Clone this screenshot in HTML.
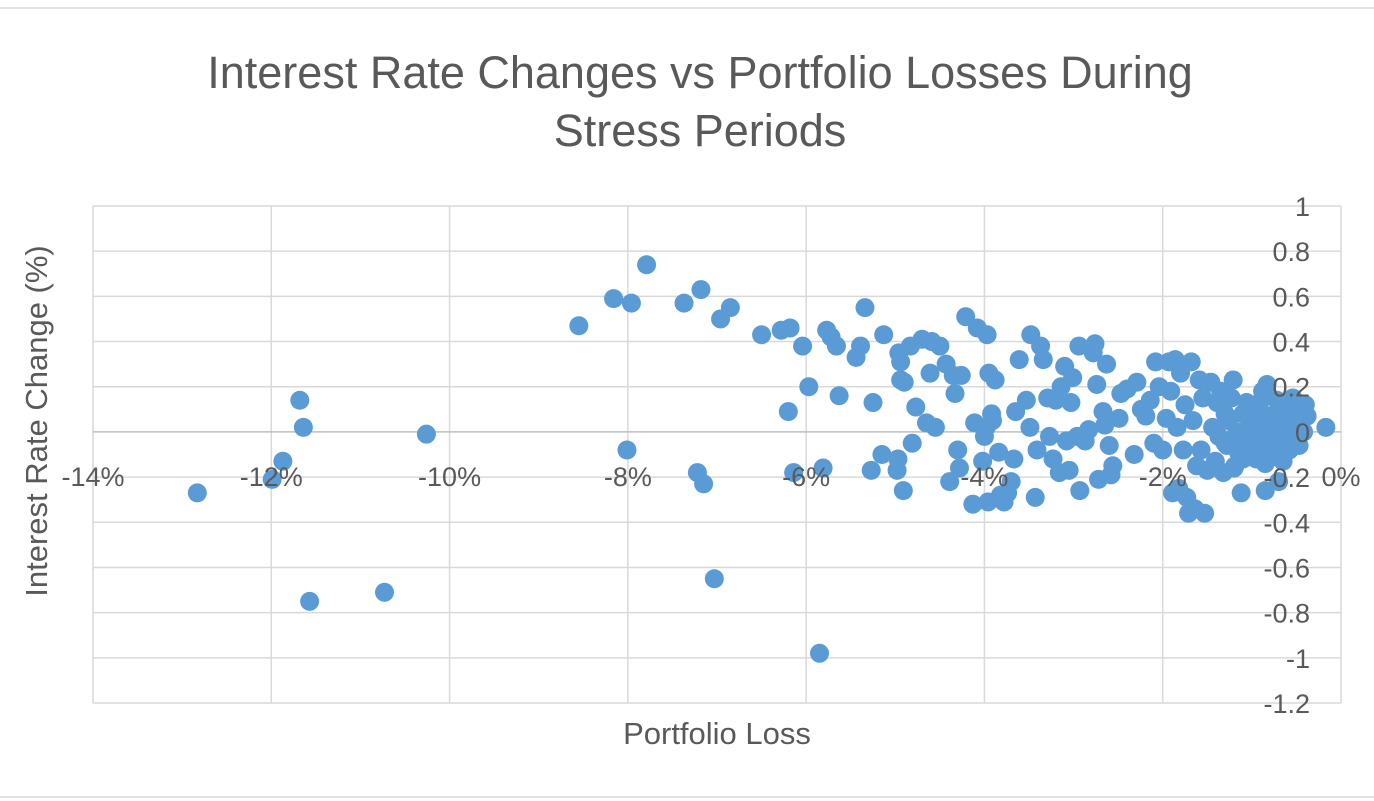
<!DOCTYPE html>
<html><head><meta charset="utf-8"><style>
html,body{margin:0;padding:0;background:#fff;}
svg{display:block;font-family:"Liberation Sans",sans-serif;}
</style></head><body>
<svg id="chart" width="1374" height="801" viewBox="0 0 1374 801">
<line x1="0" y1="8" x2="1374" y2="8" stroke="#d9d9d9" stroke-width="1.5"/>
<line x1="0" y1="797" x2="1374" y2="797" stroke="#d9d9d9" stroke-width="1.5"/>
<text x="700" y="88" text-anchor="middle" font-size="45" fill="#595959">Interest Rate Changes vs Portfolio Losses During</text>
<text x="700" y="146" text-anchor="middle" font-size="45" fill="#595959">Stress Periods</text>
<g id="grid"></g>
<g id="pts"></g>
<g id="ticks"></g>
<text x="717" y="744" text-anchor="middle" font-size="31" fill="#595959">Portfolio Loss</text>
<text transform="translate(47,421) rotate(-90)" text-anchor="middle" font-size="31" fill="#595959">Interest Rate Change (%)</text>
</svg>
<script>
const xTicks=[-14,-12,-10,-8,-6,-4,-2,0];
const xTickLabels=["-14%","-12%","-10%","-8%","-6%","-4%","-2%","0%"];
const yTicks=[1,0.8,0.6,0.4,0.2,0,-0.2,-0.4,-0.6,-0.8,-1,-1.2];
const yTickLabels=["1","0.8","0.6","0.4","0.2","0","-0.2","-0.4","-0.6","-0.8","-1","-1.2"];
const lossX=[-12.83,-11.99,-11.87,-11.68,-11.64,-11.57,-10.73,-10.26,-8.55,-8.16,-8.01,-7.96,-7.79,-7.37,-7.22,-7.18,-7.15,-7.03,-6.96,-6.85,-6.50,-6.28,-6.20,-6.18,-6.14,-6.04,-5.97,-5.85,-5.81,-5.77,-5.72,-5.66,-5.63,-5.44,-5.39,-5.34,-5.27,-5.25,-5.15,-5.13,-4.98,-4.97,-4.96,-4.94,-4.94,-4.90,-4.91,-4.83,-4.81,-4.77,-4.70,-4.65,-4.61,-4.59,-4.55,-4.50,-4.43,-4.39,-4.35,-4.33,-4.30,-4.28,-4.26,-4.21,-4.13,-4.11,-4.08,-4.02,-4.00,-3.98,-3.97,-3.96,-3.95,-3.92,-3.91,-3.88,-3.84,-3.82,-3.78,-3.74,-3.70,-3.67,-3.65,-3.61,-3.53,-3.49,-3.48,-3.43,-3.41,-3.37,-3.34,-3.29,-3.27,-3.23,-3.20,-3.16,-3.14,-3.10,-3.08,-3.05,-3.03,-3.01,-2.96,-2.94,-2.93,-2.87,-2.83,-2.78,-2.76,-2.74,-2.72,-2.67,-2.65,-2.63,-2.60,-2.58,-2.56,-2.49,-2.47,-2.40,-2.32,-2.29,-2.24,-2.19,-2.14,-2.10,-2.08,-2.04,-2.00,-1.96,-1.93,-1.91,-1.89,-1.86,-1.84,-1.82,-1.80,-1.77,-1.75,-1.73,-1.71,-1.68,-1.66,-1.64,-1.62,-1.59,-1.57,-1.55,-1.53,-1.50,-1.46,-1.44,-1.41,-1.39,-1.37,-1.35,-1.32,-1.30,-1.28,-1.26,-1.23,-1.21,-1.19,-1.17,-1.15,-1.12,-1.10,-1.08,-1.06,-1.03,-1.01,-0.99,-0.97,-0.94,-0.92,-0.90,-0.88,-0.85,-0.83,-0.81,-0.79,-0.76,-0.74,-0.72,-0.70,-0.67,-0.65,-0.63,-0.61,-0.58,-0.56,-0.54,-0.52,-0.49,-0.47,-0.45,-0.42,-0.38,-0.17,-0.95,-0.85,-0.75,-0.65,-0.55,-0.45,-0.90,-0.70,-0.60,-0.50,-1.10,-0.80,-1.00,-0.60,-0.40,-1.30,-1.20,-0.88,-0.72];
const rateY=[-0.27,-0.21,-0.13,0.14,0.02,-0.75,-0.71,-0.01,0.47,0.59,-0.08,0.57,0.74,0.57,-0.18,0.63,-0.23,-0.65,0.50,0.55,0.43,0.45,0.09,0.46,-0.18,0.38,0.20,-0.98,-0.16,0.45,0.42,0.38,0.16,0.33,0.38,0.55,-0.17,0.13,-0.10,0.43,-0.17,-0.12,0.35,0.31,0.23,0.22,-0.26,0.38,-0.05,0.11,0.41,0.04,0.26,0.40,0.02,0.38,0.30,-0.22,0.25,0.17,-0.08,-0.16,0.25,0.51,-0.32,0.04,0.46,-0.13,-0.02,0.02,0.43,-0.31,0.26,0.08,0.05,0.23,-0.09,-0.28,-0.31,-0.27,-0.22,-0.12,0.09,0.32,0.14,0.02,0.43,-0.29,-0.08,0.38,0.32,0.15,-0.02,-0.12,0.14,-0.18,0.20,0.29,-0.04,-0.17,0.13,0.24,-0.02,0.38,-0.26,-0.04,0.01,0.35,0.39,0.21,-0.21,0.09,0.03,0.30,-0.06,-0.19,-0.15,0.06,0.17,0.19,-0.10,0.22,0.10,0.07,0.14,-0.05,0.31,0.20,-0.08,0.06,0.31,0.18,-0.27,0.32,0.02,-0.25,0.26,-0.08,0.12,-0.29,-0.36,0.31,0.05,-0.34,-0.15,0.23,-0.08,0.15,-0.36,-0.17,0.22,0.02,-0.13,0.13,-0.02,0.18,-0.18,0.08,-0.06,0.05,0.15,0.23,-0.15,0.00,-0.09,-0.27,0.08,-0.04,0.13,0.02,-0.11,0.06,-0.01,0.10,-0.07,0.04,0.15,-0.26,0.21,-0.03,0.07,-0.09,0.01,0.14,-0.22,-0.05,0.06,0.00,0.11,-0.08,0.03,0.15,-0.02,0.08,-0.06,0.05,0.00,0.07,0.02,-0.12,-0.14,-0.10,-0.13,-0.04,0.10,0.09,0.04,0.12,-0.03,-0.12,0.00,-0.09,-0.06,0.12,-0.05,-0.16,0.18,-0.11];
const NS="http://www.w3.org/2000/svg";
const X0=93,X1=1341,Y0=206,Y1=703;
function sx(v){return X0+(v-(-14))/14*(X1-X0);}
function sy(v){return Y0+(1-v)/2.2*(Y1-Y0);}
const grid=document.getElementById('grid'),pts=document.getElementById('pts'),ticks=document.getElementById('ticks');
xTicks.forEach((t,i)=>{
 const l=document.createElementNS(NS,'line');
 l.setAttribute('x1',sx(t));l.setAttribute('x2',sx(t));l.setAttribute('y1',Y0);l.setAttribute('y2',Y1);
 l.setAttribute('stroke','#d9d9d9');l.setAttribute('stroke-width','1.5');
 
 
 grid.appendChild(l);
 const tx=document.createElementNS(NS,'text');
 tx.setAttribute('x',sx(t));tx.setAttribute('y',sy(0)+54);tx.setAttribute('text-anchor','middle');
 tx.setAttribute('font-size','27');tx.setAttribute('fill','#595959');tx.textContent=xTickLabels[i];
 
 
 ticks.appendChild(tx);
});
yTicks.forEach((t,i)=>{
 const l=document.createElementNS(NS,'line');
 l.setAttribute('x1',X0);l.setAttribute('x2',X1);l.setAttribute('y1',sy(t));l.setAttribute('y2',sy(t));
 l.setAttribute('stroke',t===0?'#bfbfbf':'#d9d9d9');l.setAttribute('stroke-width','1.5');
 
 
 grid.appendChild(l);
 const tx=document.createElementNS(NS,'text');
 tx.setAttribute('x',1310);tx.setAttribute('y',sy(t)+10);tx.setAttribute('text-anchor','end');
 tx.setAttribute('font-size','27');tx.setAttribute('fill','#595959');tx.textContent=yTickLabels[i];
 
 
 ticks.appendChild(tx);
});
lossX.forEach((v,i)=>{
 const c=document.createElementNS(NS,'circle');
 c.setAttribute('cx',sx(v));c.setAttribute('cy',sy(rateY[i]));c.setAttribute('r','9.5');c.setAttribute('fill','#5b9bd5');
 
 
 pts.appendChild(c);
});
</script>
</body></html>
